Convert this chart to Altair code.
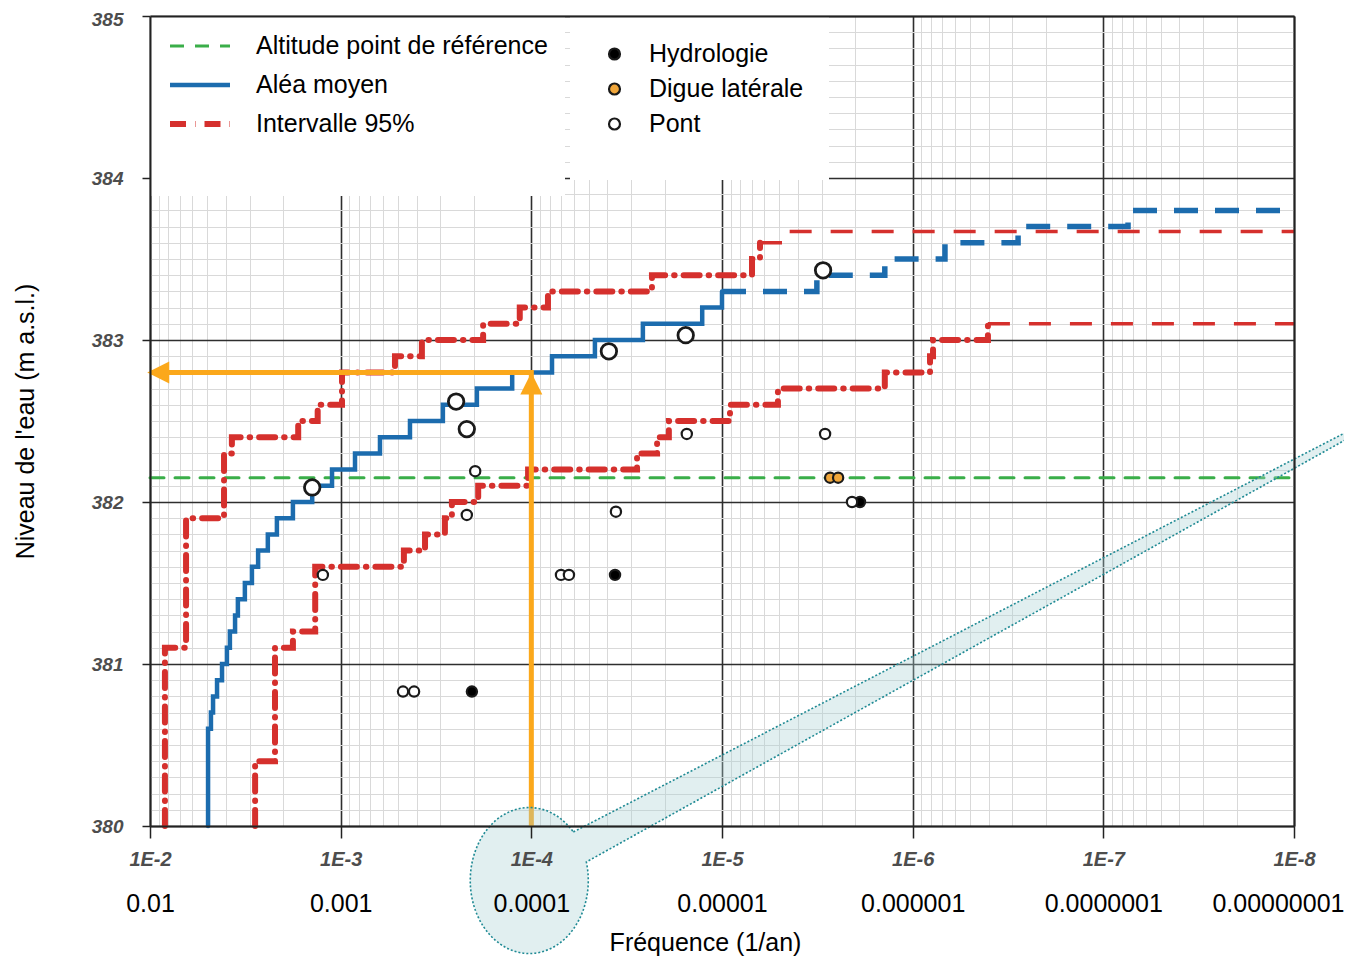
import altair as alt
import pandas as pd

# ---------------- valeurs ----------------
# Aléa moyen, partie en trait plein : fréquence au début de chaque palier / niveau
alea_f = [4.96e-3, 4.96e-3, 4.79e-3, 4.67e-3, 4.45e-3, 4.19e-3, 3.95e-3, 3.81e-3,
          3.58e-3, 3.46e-3, 3.18e-3, 2.92e-3, 2.71e-3, 2.41e-3, 2.16e-3, 1.78e-3,
          1.41e-3, 1.11e-3, 8.41e-4, 6.22e-4, 4.33e-4, 2.91e-4, 1.93e-4, 1.26e-4,
          7.79e-5, 4.64e-5, 2.60e-5, 1.27e-5, 1.00e-5]
alea_z = [380.0, 380.6, 380.7, 380.8, 380.9, 381.0, 381.1, 381.2, 381.3, 381.4,
          381.5, 381.6, 381.7, 381.8, 381.9, 382.0, 382.1, 382.2, 382.3, 382.4,
          382.5, 382.6, 382.7, 382.8, 382.9, 383.0, 383.1, 383.2, 383.3]
# Aléa moyen, partie tiretée
alea_tir_f = [1.00e-5, 3.18e-6, 1.40e-6, 6.77e-7, 2.80e-7, 7.42e-8, 1.0e-8]
alea_tir_z = [383.3, 383.4, 383.5, 383.6, 383.7, 383.8, 383.8]

# Intervalle 95 % - borne supérieure
sup_f = [8.35e-3, 8.35e-3, 6.47e-3, 4.09e-3, 3.72e-3, 1.67e-3, 1.32e-3, 9.84e-4,
         5.19e-4, 3.75e-4, 1.79e-4, 1.15e-4, 8.18e-5, 2.33e-5, 6.96e-6, 6.32e-6]
sup_z = [380.0, 381.1, 381.9, 382.3, 382.4, 382.5, 382.6, 382.8,
         382.9, 383.0, 383.1, 383.2, 383.3, 383.4, 383.5, 383.6]
sup_tir_f = [6.32e-6, 4.79e-6, 1.0e-8]
sup_tir_z = [383.6, 383.67, 383.67]

# Intervalle 95 % - borne inférieure
inf_f = [2.81e-3, 2.81e-3, 2.21e-3, 1.78e-3, 1.36e-3, 4.66e-4, 3.61e-4, 2.84e-4,
         2.61e-4, 1.90e-4, 1.04e-4, 2.79e-5, 2.19e-5, 1.90e-5, 9.08e-6, 5.09e-6,
         1.40e-6, 8.11e-7, 7.82e-7, 4.03e-7]
inf_z = [380.0, 380.4, 381.1, 381.2, 381.6, 381.7, 381.8, 381.9, 382.0, 382.1,
         382.2, 382.3, 382.4, 382.5, 382.6, 382.7, 382.8, 382.9, 383.0, 383.1]
inf_tir_f = [4.03e-7, 1.0e-8]
inf_tir_z = [383.1, 383.1]

# Altitude du point de référence
ref_f = [1e-2, 1e-8]
ref_z = [382.15, 382.15]

# Points
pont_grand_f = [1.41e-3, 2.48e-4, 2.18e-4, 3.92e-5, 1.55e-5, 2.95e-6]
pont_grand_z = [382.09, 382.62, 382.45, 382.93, 383.03, 383.43]
pont_f = [1.24e-3, 1.97e-4, 2.18e-4, 3.60e-5, 6.99e-5, 6.35e-5, 4.71e-4, 4.12e-4,
          1.53e-5, 2.88e-6, 2.08e-6]
pont_z = [381.55, 382.19, 381.92, 381.94, 381.55, 381.55, 380.83, 380.83,
          382.42, 382.42, 382.0]
hydro_f = [2.05e-4, 3.64e-5, 1.89e-6]
hydro_z = [380.83, 381.55, 382.0]
digue_f = [2.71e-6, 2.46e-6]
digue_z = [382.15, 382.15]

# Flèche de lecture (1E-4 -> 382.8 m)
fleche_f = [1e-4, 1e-4, 1e-2]
fleche_z = [380.0, 382.8, 382.8]

# Bulle d'annotation (ancrée sur la graduation 1E-4)
bulle_f = [1e-4]
bulle_z = [380.0]

# Catégories et graduations
series = ["Altitude point de référence", "Aléa moyen", "Intervalle 95%"]
types = ["Hydrologie", "Digue latérale", "Pont"]
decades = [1e-2, 1e-3, 1e-4, 1e-5, 1e-6, 1e-7, 1e-8]
niveaux = [380, 381, 382, 383, 384, 385]
grille_x = [m * 10.0 ** e for e in range(-8, -2) for m in range(1, 10)] + [1e-2]
grille_y = [round(380 + k * 0.1, 1) for k in range(51)]

# ---------------- style ----------------
FONT = "Liberation Sans"
BLUE, RED, GREEN, ORANGE = "#1c6cae", "#d5302d", "#3aae49", "#fba81b"
MAJ, MIN = "#2e2e2e", "#d9d9d9"


def trace(f, z, serie, nom):
    return pd.DataFrame({"f": f, "z": z, "serie": serie, "trace": nom,
                         "ordre": list(range(len(f)))})


lines_df = pd.concat([
    trace(ref_f, ref_z, series[0], "ref"),
    trace(alea_f, alea_z, series[1], "alea"),
    trace(sup_f, sup_z, series[2], "sup"),
    trace(inf_f, inf_z, series[2], "inf"),
], ignore_index=True)
alea_tir_df = trace(alea_tir_f, alea_tir_z, series[1], "alea_t")
int_tir_df = pd.concat([trace(sup_tir_f, sup_tir_z, series[2], "sup_t"),
                        trace(inf_tir_f, inf_tir_z, series[2], "inf_t")],
                       ignore_index=True)
pts_df = pd.concat([
    pd.DataFrame({"f": hydro_f, "z": hydro_z, "type": types[0]}),
    pd.DataFrame({"f": digue_f, "z": digue_z, "type": types[1]}),
    pd.DataFrame({"f": pont_f, "z": pont_z, "type": types[2]}),
], ignore_index=True)
pont_grand_df = pd.DataFrame({"f": pont_grand_f, "z": pont_grand_z})
fleche_df = pd.DataFrame({"f": fleche_f, "z": fleche_z, "ordre": [0, 1, 2]})
tete_haut_df = pd.DataFrame({"f": fleche_f[1:2], "z": fleche_z[1:2]})
tete_gauche_df = pd.DataFrame({"f": fleche_f[2:3], "z": fleche_z[2:3]})
bulle_df = pd.DataFrame({"f": bulle_f, "z": bulle_z})

xs = alt.Scale(type="log", domain=[1e-8, 1e-2], reverse=True, nice=False)
ys = alt.Scale(domain=[380, 385], nice=False, zero=False)

isdec = "abs(log(datum.value)/LN10 - round(log(datum.value)/LN10)) < 0.001"
isint = "abs(datum.value - round(datum.value)) < 0.001"

ax_x_grid = alt.Axis(values=grille_x, grid=True, orient="bottom",
                     gridColor={"condition": {"test": isdec, "value": MAJ}, "value": MIN},
                     gridWidth={"condition": {"test": isdec, "value": 1.6}, "value": 1},
                     labels=False, ticks=False, domain=False, title=None, zindex=0)
ax_x_lab1 = alt.Axis(values=decades, grid=False, orient="bottom",
                     labelExpr="'1E' + round(log(datum.value)/LN10)",
                     labelFont=FONT, labelFontSize=20, labelFontStyle="italic",
                     labelFontWeight="bold", labelColor="#4d4d4d", labelPadding=11,
                     tickSize=12, tickColor="#222222", tickWidth=1.5,
                     domainColor="#222222", domainWidth=2, title=None, zindex=1,
                     labelFlush=False, labelOverlap=False)
ax_x_lab2 = alt.Axis(values=decades, grid=False, orient="bottom",
                     labelExpr="format(datum.value, '.8~f')",
                     labelFont=FONT, labelFontSize=25, labelColor="black",
                     labelPadding=65,
                     labelAlign={"condition": {"test": "datum.value < 5e-8", "value": "right"},
                                 "value": "center"},
                     labelOffset={"condition": {"test": "datum.value < 5e-8", "value": 50},
                                  "value": 0},
                     ticks=False, domain=False, labelFlush=False, labelOverlap=False,
                     title="Fréquence (1/an)", titleFont=FONT, titleFontSize=25,
                     titleFontWeight="normal", titleColor="black",
                     titleX=555, titleY=116, titleBaseline="middle", titleAlign="center",
                     zindex=1)
ax_x_top = alt.Axis(orient="top", labels=False, ticks=False, grid=False, domain=True,
                    domainColor="#222222", domainWidth=2, title=None, zindex=1)

ax_y_grid = alt.Axis(values=grille_y, grid=True, orient="left",
                     gridColor={"condition": {"test": isint, "value": MAJ}, "value": MIN},
                     gridWidth={"condition": {"test": isint, "value": 1.6}, "value": 1},
                     labels=False, ticks=False, domain=False, title=None, zindex=0)
ax_y_lab = alt.Axis(values=niveaux, grid=False, orient="left", format="d",
                    labelFont=FONT, labelFontSize=19, labelFontStyle="italic",
                    labelFontWeight="bold", labelColor="#4d4d4d", labelPadding=19,
                    labelOffset={"condition": {"test": "datum.value > 384.5", "value": 3},
                                 "value": 0},
                    tickSize=8, tickColor="#222222", tickWidth=1.5,
                    domainColor="#222222", domainWidth=2,
                    title="Niveau de l'eau (m a.s.l.)", titleFont=FONT, titleFontSize=25,
                    titleFontWeight="normal", titleColor="black",
                    titleX=-125, titleY=405, titleAngle=270, titleAlign="center",
                    titleBaseline="middle", zindex=1)
ax_y_right = alt.Axis(orient="right", labels=False, ticks=False, grid=False, domain=True,
                      domainColor="#222222", domainWidth=2, title=None, zindex=1)

leg_lines = alt.Legend(orient="none", legendX=0, legendY=0, title=" ",
                       titleOrient="bottom", titleFontSize=34, titlePadding=8,
                       fillColor="white", padding=17, labelFont=FONT, labelFontSize=25,
                       labelColor="black", symbolType="stroke", symbolSize=3600,
                       clipHeight=26, rowPadding=13, labelOffset=23, labelLimit=500)
leg_pts = alt.Legend(orient="none", legendX=420, legendY=0, title=" ",
                     titleOrient="bottom", titleFontSize=14, titlePadding=4,
                     fillColor="white", padding=25, labelFont=FONT, labelFontSize=25,
                     labelColor="black", symbolType="circle", symbolSize=120,
                     symbolStrokeWidth=2.2, symbolStrokeColor="#1a1a1a", symbolOffset=7,
                     clipHeight=26, rowPadding=9, labelOffset=22, labelLimit=500)

main_lines = alt.Chart(lines_df).mark_line(interpolate="step-after", strokeCap="round").encode(
    x=alt.X("f:Q", scale=xs, axis=ax_x_grid),
    y=alt.Y("z:Q", scale=ys, axis=ax_y_grid),
    color=alt.Color("serie:N", scale=alt.Scale(domain=series, range=[GREEN, BLUE, RED]),
                    legend=leg_lines),
    strokeDash=alt.StrokeDash("serie:N", scale=alt.Scale(
        domain=series, range=[[14, 11], [1, 0], [16, 9, 0.5, 9]]), legend=leg_lines),
    strokeWidth=alt.StrokeWidth("serie:N", scale=alt.Scale(
        domain=series, range=[3, 6, 3.6]), legend=leg_lines),
    detail="trace:N",
    order="ordre:Q",
)

alea_tail = alt.Chart(alea_tir_df).mark_line(
    interpolate="step-after", color=BLUE, strokeWidth=5.5, strokeDash=[24, 17]
).encode(
    x=alt.X("f:Q", scale=xs, axis=ax_x_lab1),
    y=alt.Y("z:Q", scale=ys, axis=ax_y_lab),
    order="ordre:Q",
)

int_tail = alt.Chart(int_tir_df).mark_line(
    interpolate="step-after", color=RED, strokeWidth=3.5, strokeDash=[22, 19]
).encode(
    x=alt.X("f:Q", scale=xs, axis=ax_x_lab2),
    y=alt.Y("z:Q", scale=ys, axis=ax_y_right),
    detail="trace:N",
    order="ordre:Q",
)

pts = alt.Chart(pts_df).mark_point(
    shape="circle", filled=True, size=105, stroke="#1a1a1a", strokeWidth=2.2, opacity=1
).encode(
    x=alt.X("f:Q", scale=xs, axis=ax_x_top),
    y=alt.Y("z:Q", scale=ys, axis=None),
    fill=alt.Fill("type:N", scale=alt.Scale(domain=types, range=["#000000", "#f0a63a", "#ffffff"]),
                  legend=leg_pts),
)

pont_grand = alt.Chart(pont_grand_df).mark_point(
    shape="circle", filled=True, fill="white", size=240, stroke="#1a1a1a",
    strokeWidth=2.8, opacity=1
).encode(
    x=alt.X("f:Q", scale=xs, axis=None),
    y=alt.Y("z:Q", scale=ys, axis=None),
)

fleche = alt.Chart(fleche_df).mark_line(color=ORANGE, strokeWidth=5).encode(
    x=alt.X("f:Q", scale=xs, axis=None),
    y=alt.Y("z:Q", scale=ys, axis=None),
    order="ordre:Q",
)
tete_haut = alt.Chart(tete_haut_df).mark_point(
    shape="M0,0L-1,2L1,2Z", size=484, filled=True, color=ORANGE, opacity=1
).encode(x=alt.X("f:Q", scale=xs, axis=None), y=alt.Y("z:Q", scale=ys, axis=None))
tete_gauche = alt.Chart(tete_gauche_df).mark_point(
    shape="M-0.25,0L1.75,-1L1.75,1Z", size=484, filled=True, color=ORANGE, opacity=1
).encode(x=alt.X("f:Q", scale=xs, axis=None), y=alt.Y("z:Q", scale=ys, axis=None))

bulle = alt.Chart(bulle_df).mark_point(
    shape="M42,6L821,-397L821,-390L55,36A59,73 0 1 1 42,6Z", size=4, filled=True,
    fill="#a9d0d3", fillOpacity=0.35, stroke="#1f8a94", strokeOpacity=1,
    strokeWidth=1.6, strokeDash=[2, 2], opacity=1
).encode(x=alt.X("f:Q", scale=xs, axis=None), y=alt.Y("z:Q", scale=ys, axis=None))

chart = alt.layer(
    main_lines, alea_tail, int_tail, pts, pont_grand, fleche, tete_haut, tete_gauche, bulle
).resolve_axis(
    x="independent", y="independent"
).properties(
    width=1144, height=810,
    padding={"left": 142, "top": 8, "right": 50, "bottom": 130},
    autosize=alt.AutoSizeParams(type="none"),
).configure(
    font=FONT, background="white"
).configure_view(stroke=None)

chart.save("out.html", embed_options={"renderer": "svg", "actions": False})
